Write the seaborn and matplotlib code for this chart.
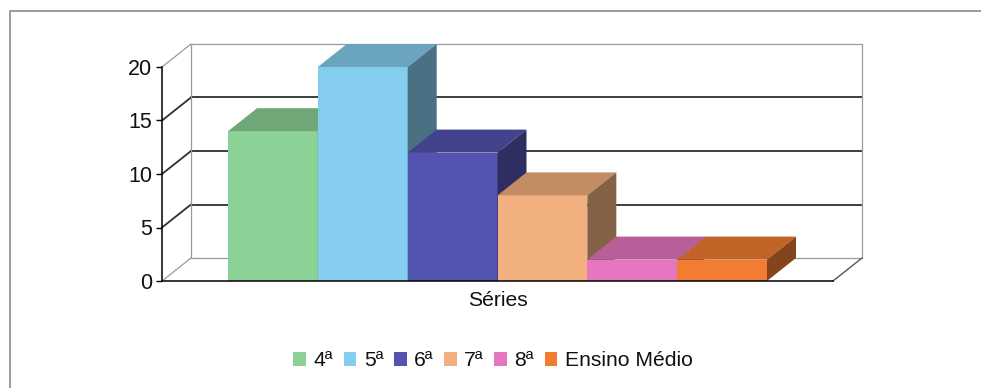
import numpy as np
import pandas as pd
import matplotlib.pyplot as plt
import matplotlib.colors as mcolors
from matplotlib.patches import Polygon, Patch
from matplotlib.lines import Line2D
import seaborn as sns

# data
series = ["4ª", "5ª", "6ª", "7ª", "8ª", "Ensino Médio"]
values = [14, 20, 12, 8, 2, 2]
colors = ["#8cd196", "#84cdee", "#5353b0", "#f2b07e", "#e676bf", "#f27c32"]
yticks = [0, 5, 10, 15, 20]

df = pd.DataFrame({"serie": series, "n": values})

sns.set_theme(style="white")
plt.rcParams["font.family"] = ["Liberation Sans", "DejaVu Sans"]

W, H = 981, 388
fig = plt.figure(figsize=(W / 100, H / 100), dpi=100)
ax = fig.add_axes([162 / W, (H - 281) / H, (833 - 162) / W, (281 - 67) / H])

sns.barplot(data=df, x="serie", y="n", hue="serie", palette=colors, width=1.0,
            saturation=1, legend=False, linewidth=0, ax=ax)
ax.set_xlim(-1.235, 6.235)
ax.set_ylim(0, 20)

# depth of the fake 3d box, in pixels -> data units
x0, x1 = ax.get_xlim()
px_x = (833 - 162) / (x1 - x0)
px_y = (281 - 67) / 20
ddx = 29 / px_x
ddy = 23 / px_y

# walls
for v in yticks:
    c = "#9a9a9a" if v in (0, 20) else "#2e2e2e"
    lw = 0.9 if v in (0, 20) else 1.3
    ax.plot([x0 + ddx, x1 + ddx], [v + ddy, v + ddy], color=c, lw=lw, zorder=1, clip_on=False)
    ax.plot([x0, x0 + ddx], [v, v + ddy], color=c, lw=lw, zorder=1, clip_on=False)
for xx in (x0 + ddx, x1 + ddx):
    ax.plot([xx, xx], [ddy, 20 + ddy], color="#9a9a9a", lw=0.9, zorder=1, clip_on=False)
ax.plot([x1, x1 + ddx], [0, ddy], color="#555555", lw=1.0, zorder=1, clip_on=False)

# bar tops and sides
for i, p in enumerate(ax.patches):
    x, w, h = p.get_x(), p.get_width(), p.get_height()
    base = np.array(mcolors.to_rgb(p.get_facecolor()))
    p.set_zorder(3 + i)
    top = Polygon([(x, h), (x + w, h), (x + w + ddx, h + ddy), (x + ddx, h + ddy)],
                  closed=True, fc=base * 0.8, lw=0, zorder=3.5 + i, clip_on=False)
    side = Polygon([(x + w, 0), (x + w + ddx, ddy), (x + w + ddx, h + ddy), (x + w, h)],
                   closed=True, fc=base * 0.55, lw=0, zorder=3.5 + i, clip_on=False)
    ax.add_patch(top)
    ax.add_patch(side)

sns.despine(ax=ax)
for s in ("left", "bottom"):
    ax.spines[s].set_color("black")
    ax.spines[s].set_linewidth(1.1)
    ax.spines[s].set_zorder(20)
ax.set_yticks(yticks)
ax.set_xticks([])
ax.tick_params(axis="y", left=True, length=4, width=1, color="black",
               labelsize=15.5, pad=3, labelcolor="#111111")
ax.set_xlabel("Séries", fontsize=15.2, labelpad=7, color="#111111")
ax.set_ylabel("")

handles = [Patch(facecolor=c, edgecolor="none") for c in colors]
fig.legend(handles, series, loc="center", bbox_to_anchor=(493 / W, 1 - 361 / H),
           ncol=6, frameon=False, fontsize=15.2, handlelength=0.6, handleheight=0.6,
           handletextpad=0.35, columnspacing=0.5, labelcolor="#111111")

# outer chart frame (only top and left edges visible in the scan)
fig.add_artist(Line2D([10 / W, 10 / W, 1], [0, 1 - 11 / H, 1 - 11 / H],
                      transform=fig.transFigure, color="#8a8a8a", lw=1.2))

fig.savefig("out.png", dpi=100)
